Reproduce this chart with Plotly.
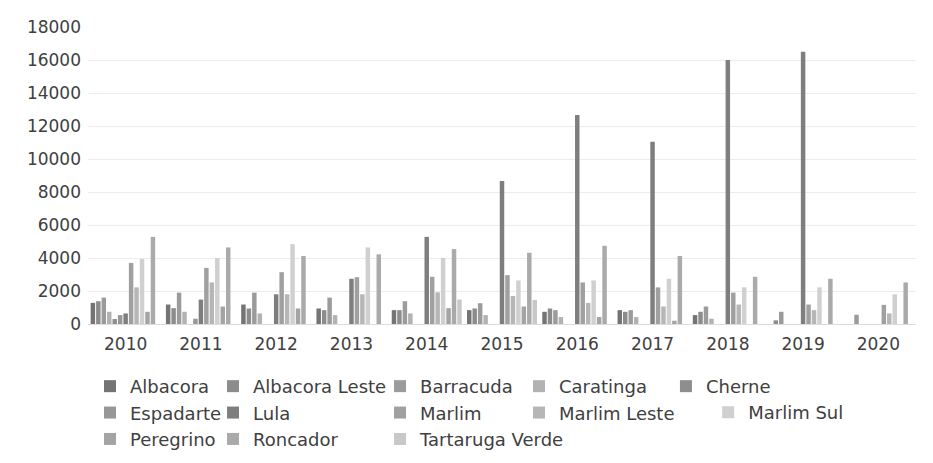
import plotly.graph_objects as go

# 年份（类别轴）
years = ["2010", "2011", "2012", "2013", "2014", "2015", "2016", "2017", "2018", "2019", "2020"]

# 各油田数值（按年份顺序，从图上估读）
albacora = [1280, 1180, 1180, 940, 840, 840, 740, 840, 540, 0, 0]
albacora_leste = [1380, 960, 940, 840, 840, 940, 940, 740, 740, 220, 0]
barracuda = [1600, 1900, 1900, 1600, 1380, 1260, 840, 840, 1060, 740, 560]
caratinga = [740, 740, 640, 540, 640, 540, 420, 420, 320, 0, 0]
cherne = [300, 0, 0, 0, 0, 0, 0, 0, 0, 0, 0]
espadarte = [540, 320, 0, 0, 0, 0, 0, 0, 0, 0, 0]
lula = [640, 1480, 1800, 2740, 5280, 8660, 12660, 11040, 16000, 16500, 0]
marlim = [3700, 3400, 3140, 2840, 2860, 2960, 2520, 2220, 1900, 1180, 1160]
marlim_leste = [2220, 2520, 1800, 1800, 1920, 1700, 1280, 1060, 1180, 840, 640]
marlim_sul = [3940, 4000, 4840, 4640, 4000, 2640, 2640, 2740, 2220, 2220, 1800]
peregrino = [740, 1060, 940, 0, 960, 1060, 420, 200, 0, 0, 0]
roncador = [5280, 4640, 4120, 4220, 4540, 4320, 4740, 4120, 2860, 2740, 2520]
tartaruga_verde = [0, 0, 0, 0, 1480, 1460, 0, 0, 0, 0, 0]

# (名称, 数据, 颜色, 所属图例列)
series = [
    ("Albacora", albacora, "#747474", "legend"),
    ("Albacora Leste", albacora_leste, "#8c8c8c", "legend2"),
    ("Barracuda", barracuda, "#9b9b9b", "legend3"),
    ("Caratinga", caratinga, "#b2b2b2", "legend4"),
    ("Cherne", cherne, "#8e8e8e", "legend5"),
    ("Espadarte", espadarte, "#979797", "legend"),
    ("Lula", lula, "#7e7e7e", "legend2"),
    ("Marlim", marlim, "#a0a0a0", "legend3"),
    ("Marlim Leste", marlim_leste, "#b6b6b6", "legend4"),
    ("Marlim Sul", marlim_sul, "#d0d0d0", "legend6"),
    ("Peregrino", peregrino, "#a4a4a4", "legend"),
    ("Roncador", roncador, "#aaaaaa", "legend2"),
    ("Tartaruga Verde", tartaruga_verde, "#c8c8c8", "legend3"),
]

FONT = "DejaVu Sans"
TXT = "#404040"

fig = go.Figure()
for name, vals, color, lg in series:
    fig.add_trace(go.Bar(
        x=years, y=vals, name=name, legend=lg,
        marker=dict(color=color, line=dict(width=0)),
    ))

# 图例按列拆分，模仿 Excel 不等宽的列
LEG_Y = -0.148
ROW = 0.0882
leg_style = dict(orientation="v", xanchor="left", yanchor="top",
                 font=dict(family=FONT, size=18, color=TXT),
                 traceorder="normal", bgcolor="rgba(0,0,0,0)")
legends = {
    "legend": dict(x=0.0024, y=LEG_Y, **leg_style),
    "legend2": dict(x=0.151, y=LEG_Y, **leg_style),
    "legend3": dict(x=0.3527, y=LEG_Y, **leg_style),
    "legend4": dict(x=0.5205, y=LEG_Y, **leg_style),
    "legend5": dict(x=0.698, y=LEG_Y, **leg_style),
    "legend6": dict(x=0.749, y=LEG_Y - ROW, **leg_style),
}

# 页面 body 有 8px 默认边距，尺寸和边距按此补偿
fig.update_layout(
    width=917, height=463,
    margin=dict(l=80, r=9, t=17, b=147),
    plot_bgcolor="white", paper_bgcolor="white",
    barmode="group", bargap=0.057, bargroupgap=0.18,
    font=dict(family=FONT, size=17, color=TXT),
    showlegend=True,
    **legends,
)
fig.update_xaxes(
    type="category", showgrid=False, showline=False, ticks="",
    ticklabelstandoff=8,
    tickfont=dict(family=FONT, size=17, color=TXT),
)
fig.update_yaxes(
    range=[0, 18000], tickvals=list(range(0, 18001, 2000)), tickformat="d",
    showgrid=True, gridcolor="#ececec", gridwidth=1,
    zeroline=True, zerolinecolor="#dcdcdc", zerolinewidth=1,
    showline=False, ticks="", ticklabelstandoff=6,
    tickfont=dict(family=FONT, size=17, color=TXT),
)

fig.write_html("out.html")
